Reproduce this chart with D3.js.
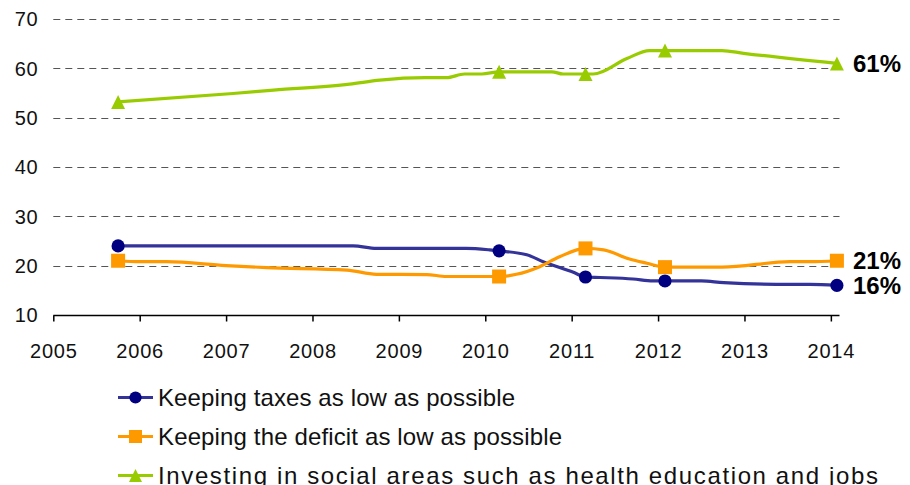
<!DOCTYPE html>
<html>
<head>
<meta charset="utf-8">
<script src="https://cdn.jsdelivr.net/npm/d3@7/dist/d3.min.js"></script>
<style>
  html, body { margin: 0; padding: 0; background: #fff; }
  svg { display: block; font-family: "Liberation Sans", Arial, sans-serif; }
</style>
</head>
<body>
<svg id="chart" width="910" height="485"></svg>
<script>
// Survey series: [decimal year, percent]
const taxesPoints = [
  [2005.75, 24], [2008.47, 24], [2008.74, 23.5], [2009.78, 23.5], [2010.05, 23.2],
  [2010.16, 23], [2010.48, 22.2], [2010.67, 20.8], [2011.02, 18.65], [2011.16, 17.7],
  [2011.33, 17.6], [2011.71, 17.3], [2011.94, 16.9], [2012.08, 16.9], [2012.5, 16.9],
  [2012.76, 16.55], [2013.53, 16.2], [2013.76, 16.2], [2014.07, 16]
];
const deficitPoints = [
  [2005.75, 21], [2006.0, 20.8], [2006.31, 20.8], [2007.0, 20.0], [2007.47, 19.6],
  [2008.4, 19.1], [2008.74, 18.25], [2009.32, 18.2], [2009.55, 17.8], [2010.16, 17.8],
  [2010.36, 18.25], [2010.63, 19.8], [2010.86, 21.8], [2011.16, 23.5], [2011.37, 23.2],
  [2011.67, 21.35], [2011.87, 20.5], [2012.08, 19.7], [2012.74, 19.7], [2013.53, 20.8],
  [2013.76, 20.8], [2014.07, 21]
];
const socialPoints = [
  [2005.75, 53.2], [2007.08, 54.9], [2007.55, 55.6], [2008.43, 56.8], [2008.78, 57.6],
  [2009.3, 58.1], [2009.55, 58.1], [2009.76, 58.85], [2009.96, 58.85], [2010.16, 59.3],
  [2010.77, 59.3], [2010.9, 58.85], [2011.16, 58.85], [2011.25, 58.85], [2011.64, 62.0],
  [2011.9, 63.6], [2012.08, 63.6], [2012.74, 63.6], [2012.99, 63.05], [2014.07, 61]
];

// Survey waves that carry a marker
const markerYears = [2005.75, 2010.16, 2011.16, 2012.08, 2014.07];

const seriesNames = [
  "Keeping taxes as low as possible",
  "Keeping the deficit as low as possible",
  "Investing in social areas such as health education and jobs"
];
const endLabels = ["16%", "21%", "61%"];

const xTicks = d3.range(2005, 2015);
const yTicks = [10, 20, 30, 40, 50, 60, 70];

const series = [
  { name: seriesNames[0], points: taxesPoints, line: "#333399", fill: "#000080", shape: "circle", label: endLabels[0] },
  { name: seriesNames[1], points: deficitPoints, line: "#FF9900", fill: "#FF9900", shape: "square", label: endLabels[1] },
  { name: seriesNames[2], points: socialPoints, line: "#99CC00", fill: "#99CC00", shape: "triangle", label: endLabels[2] }
];

// Rendered width of each legend entry
const legendTextWidths = [357, 404, 720];

const svg = d3.select("#chart");
const x = d3.scaleLinear().domain([2005, 2014.1]).range([53.3, 839.5]);
const y = d3.scaleLinear().domain([10, 70]).range([315, 19]);

// Dashed horizontal gridlines
svg.append("g")
  .selectAll("line")
  .data(yTicks.filter(d => d > 10))
  .join("line")
  .attr("x1", x.range()[0]).attr("x2", x.range()[1])
  .attr("y1", d => Math.round(y(d)) + 0.5).attr("y2", d => Math.round(y(d)) + 0.5)
  .attr("stroke", "#555")
  .attr("stroke-width", 1)
  .attr("stroke-dasharray", "7,5");

// Y tick labels
svg.append("g")
  .selectAll("text")
  .data(yTicks)
  .join("text")
  .attr("x", 38.5)
  .attr("y", d => y(d))
  .attr("dy", "0.36em")
  .attr("text-anchor", "end")
  .attr("font-size", 20)
  .attr("letter-spacing", "0.8px")
  .attr("fill", "#111")
  .text(d => d);

// X axis
const xAxis = d3.axisBottom(x)
  .tickValues(xTicks)
  .tickSize(6)
  .tickPadding(22)
  .tickFormat(d3.format("d"));

const gx = svg.append("g")
  .attr("transform", `translate(0,${Math.round(y(10)) + 0.5})`)
  .call(xAxis);
gx.select(".domain").attr("stroke", "#000").attr("stroke-width", 1.5)
  .attr("d", `M${x.range()[0]},0H${x.range()[1]}`);
gx.selectAll(".tick line").attr("stroke", "#000").attr("stroke-width", 1.5);
gx.selectAll(".tick text")
  .attr("font-size", 20)
  .attr("letter-spacing", "0.8px")
  .attr("fill", "#111")
  .attr("font-family", "\"Liberation Sans\", Arial, sans-serif");

// Marker shapes
function drawMarker(g, shape, cx, cy, color, s) {
  if (shape === "circle") {
    g.append("circle").attr("cx", cx).attr("cy", cy).attr("r", s * 0.47).attr("fill", color);
  } else if (shape === "square") {
    g.append("rect").attr("x", cx - s / 2).attr("y", cy - s / 2)
      .attr("width", s).attr("height", s).attr("fill", color);
  } else {
    g.append("path")
      .attr("d", `M${cx},${cy - s / 2}L${cx + s / 2},${cy + s / 2}L${cx - s / 2},${cy + s / 2}Z`)
      .attr("fill", color);
  }
}

const line = d3.line()
  .x(d => x(d[0]))
  .y(d => y(d[1]))
  .curve(d3.curveMonotoneX);

series.forEach(s => {
  const g = svg.append("g");
  g.append("path")
    .datum(s.points)
    .attr("d", line)
    .attr("fill", "none")
    .attr("stroke", s.line)
    .attr("stroke-width", 3.2)
    .attr("stroke-linejoin", "round");
  const marks = s.points.filter(p => markerYears.some(m => Math.abs(m - p[0]) < 0.02));
  marks.forEach(p => drawMarker(g, s.shape, x(p[0]), y(p[1]), s.fill, 14));

  const last = s.points[s.points.length - 1];
  g.append("text")
    .attr("x", 853)
    .attr("y", y(last[1]))
    .attr("dy", "0.36em")
    .attr("font-size", 24)
    .attr("font-weight", "bold")
    .attr("fill", "#000")
    .text(s.label);
});

// Legend
const legend = svg.append("g");
series.forEach((s, i) => {
  const cy = 397.5 + i * 39;
  legend.append("line")
    .attr("x1", 118).attr("x2", 153)
    .attr("y1", cy).attr("y2", cy)
    .attr("stroke", s.line).attr("stroke-width", 3.2);
  drawMarker(legend, s.shape, 135.5, cy, s.fill, 13);
  legend.append("text")
    .attr("x", 158)
    .attr("y", cy + 8.6)
    .attr("font-size", 24)
    .attr("textLength", legendTextWidths[i])
    .attr("lengthAdjust", "spacing")
    .attr("fill", "#111")
    .text(s.name);
});
</script>
</body>
</html>
